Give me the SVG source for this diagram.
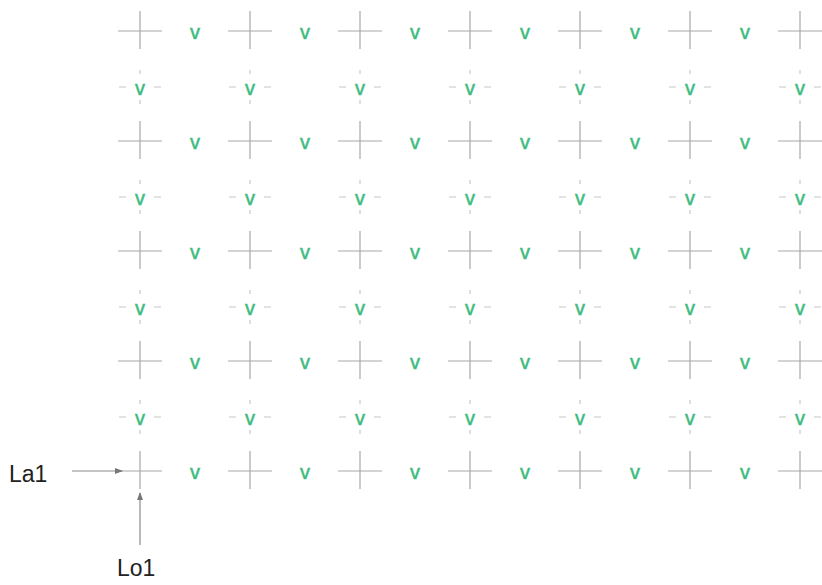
<svg xmlns="http://www.w3.org/2000/svg" width="822" height="585" viewBox="0 0 822 585">
<style>
.cr{stroke:#a8a8a8;stroke-width:1.2;fill:none}
.tk{stroke:#c8c8c8;stroke-width:1.2;fill:none}
.v{font-family:"Liberation Sans",Arial,sans-serif;font-size:20px;fill:#3dbb7f;stroke:#3dbb7f;stroke-width:0.5;text-anchor:middle}
.lb{font-family:"Liberation Sans",Arial,sans-serif;font-size:23px;fill:#222}
.ar{stroke:#8a8a8a;stroke-width:1.2;fill:none}
</style>
<defs>
<g id="cross"><path class="cr" d="M-22 0H22M0 -20V18"/></g>
<g id="vm"><path class="tk" d="M-21 1H-14M14 1H21M0 -16V-12M0 14V18"/><text class="v" x="0" y="9">v</text></g>
<g id="vc"><text class="v" x="0" y="8">v</text></g>
<marker id="ah" markerWidth="8" markerHeight="6" refX="7" refY="3" orient="auto" markerUnits="userSpaceOnUse"><path d="M0 0L8 3L0 6Z" fill="#777"/></marker>
</defs>
<g id="grid">
<g id="crosses">
<use href="#cross" x="140" y="31"/><use href="#cross" x="250" y="31"/><use href="#cross" x="360" y="31"/><use href="#cross" x="470" y="31"/><use href="#cross" x="580" y="31"/><use href="#cross" x="690" y="31"/><use href="#cross" x="800" y="31"/>
<use href="#cross" x="140" y="141"/><use href="#cross" x="250" y="141"/><use href="#cross" x="360" y="141"/><use href="#cross" x="470" y="141"/><use href="#cross" x="580" y="141"/><use href="#cross" x="690" y="141"/><use href="#cross" x="800" y="141"/>
<use href="#cross" x="140" y="251"/><use href="#cross" x="250" y="251"/><use href="#cross" x="360" y="251"/><use href="#cross" x="470" y="251"/><use href="#cross" x="580" y="251"/><use href="#cross" x="690" y="251"/><use href="#cross" x="800" y="251"/>
<use href="#cross" x="140" y="361"/><use href="#cross" x="250" y="361"/><use href="#cross" x="360" y="361"/><use href="#cross" x="470" y="361"/><use href="#cross" x="580" y="361"/><use href="#cross" x="690" y="361"/><use href="#cross" x="800" y="361"/>
<use href="#cross" x="140" y="471"/><use href="#cross" x="250" y="471"/><use href="#cross" x="360" y="471"/><use href="#cross" x="470" y="471"/><use href="#cross" x="580" y="471"/><use href="#cross" x="690" y="471"/><use href="#cross" x="800" y="471"/>
</g>
<g id="v-between">
<use href="#vc" x="195" y="31"/><use href="#vc" x="305" y="31"/><use href="#vc" x="415" y="31"/><use href="#vc" x="525" y="31"/><use href="#vc" x="635" y="31"/><use href="#vc" x="745" y="31"/>
<use href="#vc" x="195" y="141"/><use href="#vc" x="305" y="141"/><use href="#vc" x="415" y="141"/><use href="#vc" x="525" y="141"/><use href="#vc" x="635" y="141"/><use href="#vc" x="745" y="141"/>
<use href="#vc" x="195" y="251"/><use href="#vc" x="305" y="251"/><use href="#vc" x="415" y="251"/><use href="#vc" x="525" y="251"/><use href="#vc" x="635" y="251"/><use href="#vc" x="745" y="251"/>
<use href="#vc" x="195" y="361"/><use href="#vc" x="305" y="361"/><use href="#vc" x="415" y="361"/><use href="#vc" x="525" y="361"/><use href="#vc" x="635" y="361"/><use href="#vc" x="745" y="361"/>
<use href="#vc" x="195" y="471"/><use href="#vc" x="305" y="471"/><use href="#vc" x="415" y="471"/><use href="#vc" x="525" y="471"/><use href="#vc" x="635" y="471"/><use href="#vc" x="745" y="471"/>
</g>
<g id="v-mid">
<use href="#vm" x="140" y="86"/><use href="#vm" x="250" y="86"/><use href="#vm" x="360" y="86"/><use href="#vm" x="470" y="86"/><use href="#vm" x="580" y="86"/><use href="#vm" x="690" y="86"/><use href="#vm" x="800" y="86"/>
<use href="#vm" x="140" y="196"/><use href="#vm" x="250" y="196"/><use href="#vm" x="360" y="196"/><use href="#vm" x="470" y="196"/><use href="#vm" x="580" y="196"/><use href="#vm" x="690" y="196"/><use href="#vm" x="800" y="196"/>
<use href="#vm" x="140" y="306"/><use href="#vm" x="250" y="306"/><use href="#vm" x="360" y="306"/><use href="#vm" x="470" y="306"/><use href="#vm" x="580" y="306"/><use href="#vm" x="690" y="306"/><use href="#vm" x="800" y="306"/>
<use href="#vm" x="140" y="416"/><use href="#vm" x="250" y="416"/><use href="#vm" x="360" y="416"/><use href="#vm" x="470" y="416"/><use href="#vm" x="580" y="416"/><use href="#vm" x="690" y="416"/><use href="#vm" x="800" y="416"/>
</g>
</g>
<g id="connectors">
<path class="ar" d="M72 471H122" marker-end="url(#ah)"/>
<path class="ar" d="M140 545V493" marker-end="url(#ah)"/>
</g>
<g id="label-La1"><text class="lb" x="9" y="482">La1</text></g>
<g id="label-Lo1"><text class="lb" x="117" y="576">Lo1</text></g>
</svg>
